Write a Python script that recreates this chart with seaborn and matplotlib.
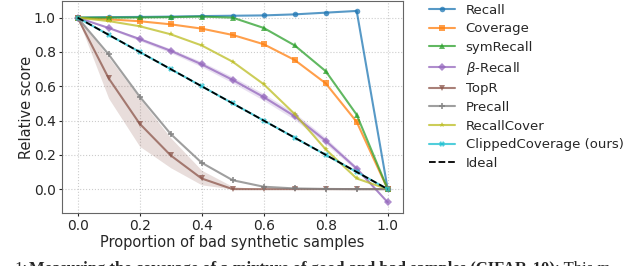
import numpy as np
import seaborn as sns
import matplotlib
matplotlib.use("Agg")
import matplotlib.pyplot as plt

# proportion of bad synthetic samples
props = [0.0, 0.1, 0.2, 0.3, 0.4, 0.5, 0.6, 0.7, 0.8, 0.9, 1.0]

recall = [1.0, 1.003, 1.004, 1.006, 1.009, 1.011, 1.013, 1.019, 1.029, 1.039, 0.0]
coverage = [1.0, 0.99, 0.979, 0.961, 0.936, 0.899, 0.845, 0.753, 0.617, 0.392, 0.0]
symrecall = [1.0, 1.0, 1.001, 1.003, 1.006, 1.0, 0.94, 0.838, 0.688, 0.434, 0.0]
beta_recall = [1.0, 0.94, 0.875, 0.807, 0.728, 0.637, 0.537, 0.425, 0.282, 0.12, -0.077]
topr = [1.0, 0.647, 0.382, 0.197, 0.062, 0.0, 0.0, 0.0, 0.0, 0.0, 0.0]
topr_lo = [1.0, 0.53, 0.25, 0.125, 0.025, 0.0, 0.0, 0.0, 0.0, 0.0, 0.0]
topr_hi = [1.0, 0.77, 0.53, 0.30, 0.11, 0.015, 0.0, 0.0, 0.0, 0.0, 0.0]
precall = [1.0, 0.786, 0.54, 0.322, 0.154, 0.052, 0.014, 0.004, 0.001, 0.0, 0.0]
recallcover = [1.0, 0.98, 0.95, 0.903, 0.838, 0.743, 0.612, 0.438, 0.232, 0.062, 0.0]
clipped = [1.0, 0.9, 0.8, 0.7, 0.6, 0.5, 0.4, 0.3, 0.2, 0.1, 0.0]
ideal = [1.0, 0.9, 0.8, 0.7, 0.6, 0.5, 0.4, 0.3, 0.2, 0.1, 0.0]
beta_spread = [0.0, 0.005, 0.01, 0.012, 0.015, 0.018, 0.02, 0.02, 0.018, 0.012, 0.005]

sns.set_style("ticks")
plt.rcParams["font.family"] = ["DejaVu Sans"]

fig = plt.figure(figsize=(6.4, 2.66), dpi=100)
ax = fig.add_axes([0.097, 0.2, 0.533, 0.795])

series = [
    ("Recall", recall, "tab:blue", "o"),
    ("Coverage", coverage, "tab:orange", "s"),
    ("symRecall", symrecall, "tab:green", "^"),
    (r"$\beta$-Recall", beta_recall, "tab:purple", "D"),
    ("TopR", topr, "tab:brown", "v"),
    ("Precall", precall, "tab:gray", "P"),
    ("RecallCover", recallcover, "tab:olive", "*"),
    ("ClippedCoverage (ours)", clipped, "tab:cyan", "X"),
]

for name, vals, col, mk in series:
    sns.lineplot(x=props, y=vals, ax=ax, color=col, marker=mk, markersize=4,
                 markeredgewidth=0, alpha=0.75, linewidth=1.5, label=name)

# spread bands
ax.fill_between(props, topr_lo, topr_hi, color="tab:brown", alpha=0.2, linewidth=0)
b = np.array(beta_recall)
s = np.array(beta_spread)
ax.fill_between(props, b - s, b + s, color="tab:purple", alpha=0.2, linewidth=0)

sns.lineplot(x=props, y=ideal, ax=ax, color="black", linestyle="--",
             linewidth=1.3, label="Ideal")

ax.set_xlabel("Proportion of bad synthetic samples", fontsize=10.5, labelpad=1.5)
ax.set_ylabel("Relative score", fontsize=10.5, labelpad=0)
ax.tick_params(labelsize=10, length=2, pad=2.5)
ax.set_xticks([0.0, 0.2, 0.4, 0.6, 0.8, 1.0])
ax.set_yticks([0.0, 0.2, 0.4, 0.6, 0.8, 1.0])
ax.grid(True, linestyle=":", color="#cccccc", linewidth=0.8)
for sp in ax.spines.values():
    sp.set_color("#666666")

ax.legend(loc="upper left", bbox_to_anchor=(1.04, 1.045), frameon=False,
          fontsize=9.5, handlelength=2.0, labelspacing=0.43)

# caption cut off at the bottom of the crop
fig.text(0.022, 0.018, "1:", fontsize=12, family="Liberation Serif", va="top")
fig.text(0.045, 0.018, "Measuring the coverage of a mixture of good and bad samples (CIFAR-10)",
         fontsize=12, family="Liberation Serif", weight="bold", va="top")
fig.text(0.867, 0.018, ": This m", fontsize=12, family="Liberation Serif", va="top")

fig.savefig("out.png", dpi=100)
